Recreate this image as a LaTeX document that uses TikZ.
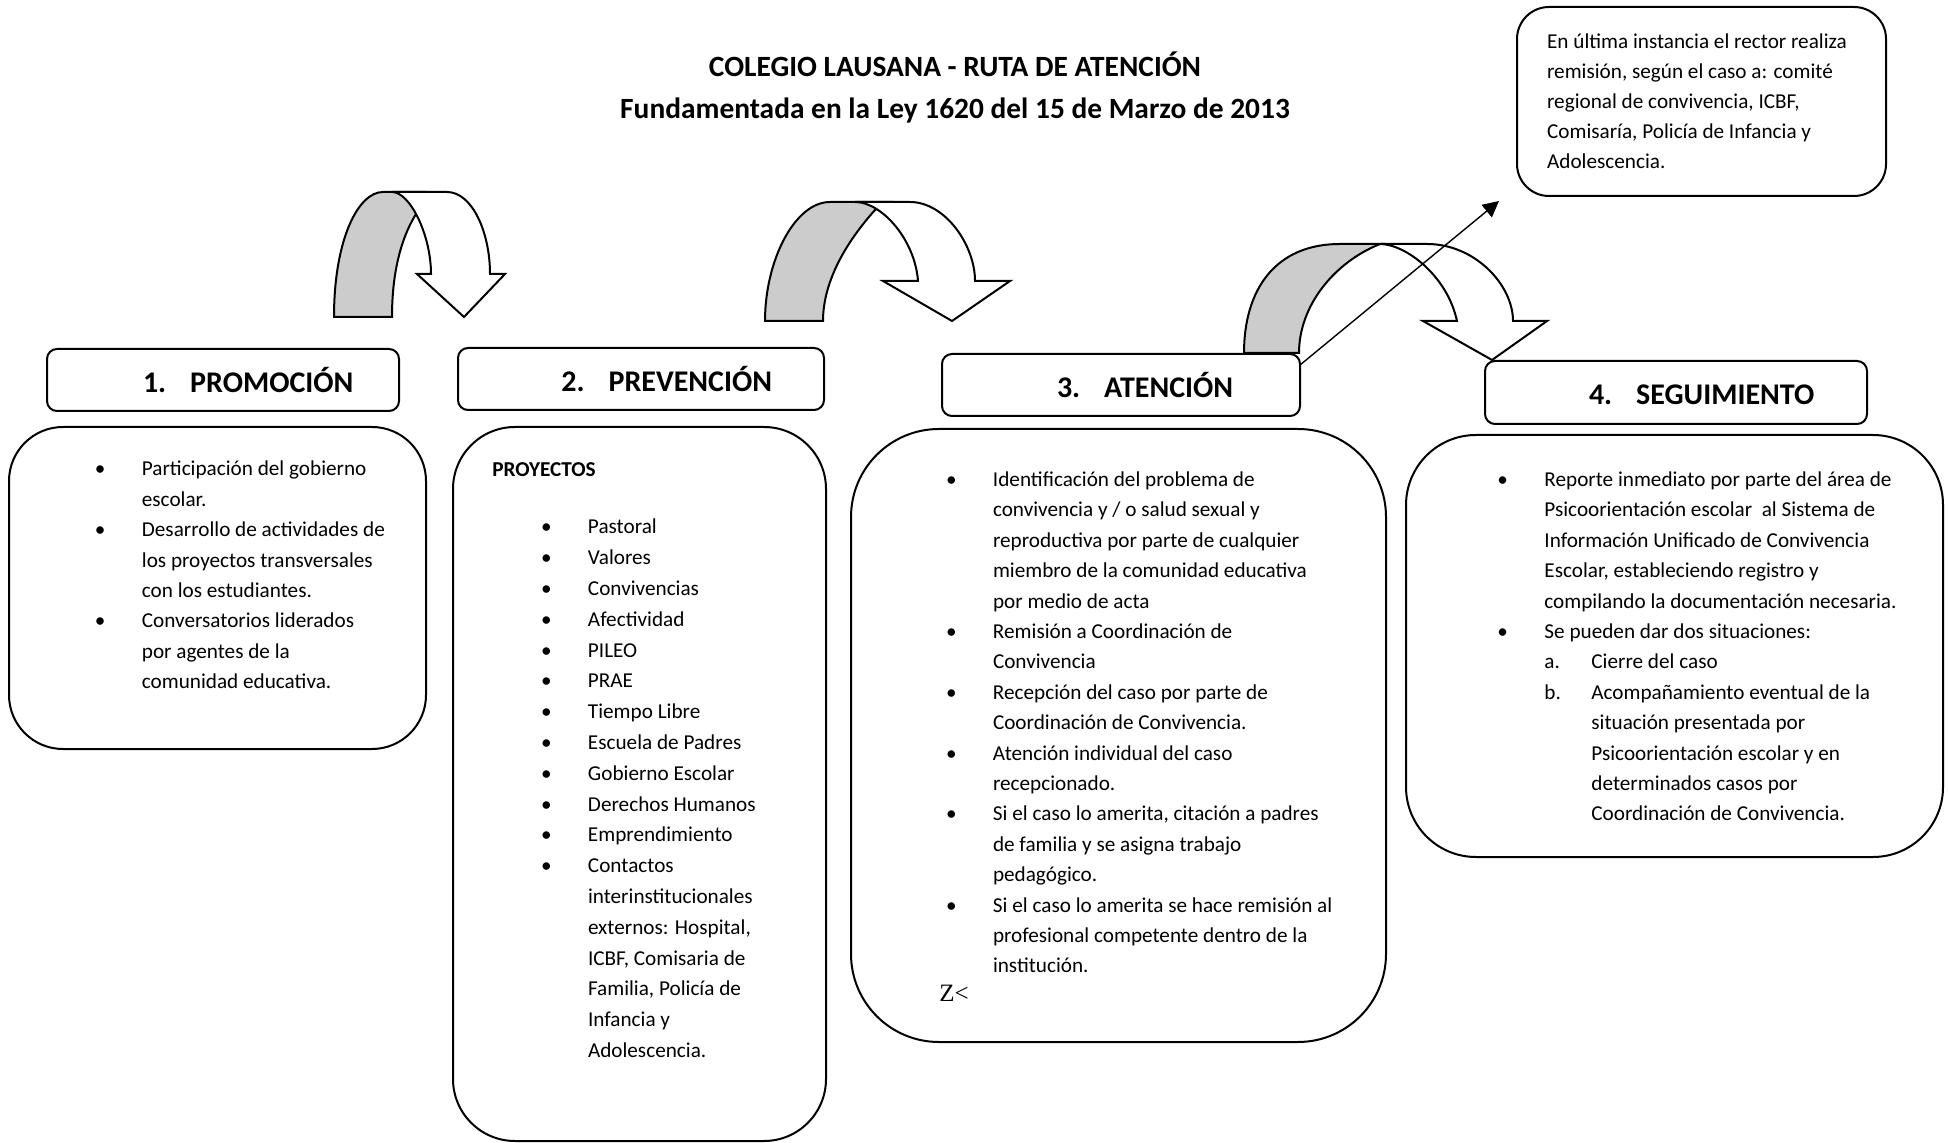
\documentclass[tikz,border=0pt]{standalone}
\usepackage{fontspec}
\setmainfont{Carlito}
\newfontfamily\markfont{Liberation Serif}
\usetikzlibrary{positioning}
\usetikzlibrary{arrows.meta}

\tikzstyle{heading} = [anchor=base, inner sep=0pt, font=\fontsize{14.7}{17}\selectfont\bfseries]
\tikzstyle{stage} = [rectangle, rounded corners=5pt, draw=black, line width=1pt, outer sep=0pt,
inner xsep=0pt, minimum height=31pt, text height=12.1pt, text depth=0pt, align=left,
font=\fontsize{15}{18}\selectfont\bfseries]
\tikzstyle{panel} = [rectangle, draw=black, line width=1pt, outer sep=0pt, inner sep=0pt]
\tikzstyle{bullets} = [anchor=base west, inner sep=0pt, font=\fontsize{10.6}{15.2}\selectfont]
\tikzstyle{bent} = [draw=black, line width=1pt]
\tikzstyle{linkarrow} = [line width=0.7pt, -{Triangle[length=8pt,width=8pt]}]

\begin{document}
\begin{tikzpicture}[x=0.5pt, y=-0.5pt]
    \useasboundingbox (0,0) rectangle (1948,1143);

    % title
    \node (ttlA) [heading] at (955,77) {COLEGIO LAUSANA - RUTA DE ATENCIÓN};
    \node (ttlB) [heading] at (955,119) {Fundamentada en la Ley 1620 del 15 de Marzo de 2013};

    % stages
    \node (hdrA) [stage, text width=176pt] at (223,380) {\hspace*{48pt}\makebox[23.6pt][l]{1.}PROMOCIÓN};
    \node (hdrB) [stage, text width=183pt] at (641,379) {\hspace*{51.7pt}\makebox[23.6pt][l]{2.}PREVENCIÓN};
    \node (hdrC) [stage, text width=179pt] at (1121,385) {\hspace*{57.5pt}\makebox[23.6pt][l]{3.}ATENCIÓN};
    \node (hdrD) [stage, text width=191pt, minimum height=31.5pt] at (1676,392.5) {\hspace*{52pt}\makebox[23.6pt][l]{4.}SEGUIMIENTO};

    \node (boxA) [panel, rounded corners=27pt, minimum width=208.5pt, minimum height=161pt, below=8pt of hdrA, xshift=-2.75pt] {};
    \node (boxB) [panel, rounded corners=31pt, minimum width=186.5pt, minimum height=357pt, below=8.5pt of hdrB, xshift=-0.75pt] {};
    \node (boxC) [panel, rounded corners=44pt, minimum width=267.5pt, minimum height=306.5pt, below=6.5pt of hdrC, xshift=-1.25pt] {};
    \node (boxD) [panel, rounded corners=35pt, minimum width=268.5pt, minimum height=211pt, below=5.5pt of hdrD, xshift=-0.75pt] {};
    \node (rector) [panel, rounded corners=16pt, minimum width=184.5pt, minimum height=94.5pt] at (1701.5,101.5) {};

    % texts
    \node (listA) [bullets] at (94.5,476) {\begin{tabular}[t]{@{}p{23.5pt}@{}l@{}}
        \textbullet & Participación del gobierno\\
         & escolar.\\
        \textbullet & Desarrollo de actividades de\\
         & los proyectos transversales\\
         & con los estudiantes.\\
        \textbullet & Conversatorios liderados\\
         & por agentes de la\\
         & comunidad educativa.
    \end{tabular}};
    \node (projB) [bullets, font=\fontsize{10.6}{15.2}\selectfont\bfseries] at (492,476.6) {PROYECTOS};
    \node (listB) [bullets, font=\fontsize{10.6}{15.4}\selectfont] at (540.6,534) {\begin{tabular}[t]{@{}p{23.5pt}@{}l@{}}
        \textbullet & Pastoral\\
        \textbullet & Valores\\
        \textbullet & Convivencias\\
        \textbullet & Afectividad\\
        \textbullet & PILEO\\
        \textbullet & PRAE\\
        \textbullet & Tiempo Libre\\
        \textbullet & Escuela de Padres\\
        \textbullet & Gobierno Escolar\\
        \textbullet & Derechos Humanos\\
        \textbullet & Emprendimiento\\
        \textbullet & Contactos\\
         & interinstitucionales\\
         & externos: Hospital,\\
         & ICBF, Comisaria de\\
         & Familia, Policía de\\
         & Infancia y\\
         & Adolescencia.
    \end{tabular}};
    \node (listC) [bullets] at (945.6,486.5) {\begin{tabular}[t]{@{}p{23.5pt}@{}l@{}}
        \textbullet & Identificación del problema de\\
         & convivencia y / o salud sexual y\\
         & reproductiva por parte de cualquier\\
         & miembro de la comunidad educativa\\
         & por medio de acta\\
        \textbullet & Remisión a Coordinación de\\
         & Convivencia\\
        \textbullet & Recepción del caso por parte de\\
         & Coordinación de Convivencia.\\
        \textbullet & Atención individual del caso\\
         & recepcionado.\\
        \textbullet & Si el caso lo amerita, citación a padres\\
         & de familia y se asigna trabajo\\
         & pedagógico.\\
        \textbullet & Si el caso lo amerita se hace remisión al\\
         & profesional competente dentro de la\\
         & institución.
    \end{tabular}};
    \node (markC) [anchor=base west, inner sep=0pt, font=\markfont\fontsize{12.5}{14}\selectfont] at (939,1001) {Z<};
    \node (listD) [bullets] at (1497,486.5) {\begin{tabular}[t]{@{}p{23.5pt}@{}l@{}}
        \textbullet & Reporte inmediato por parte del área de\\
         & Psicoorientación escolar\ \ al Sistema de\\
         & Información Unificado de Convivencia\\
         & Escolar, estableciendo registro y\\
         & compilando la documentación necesaria.\\
        \textbullet & Se pueden dar dos situaciones:\\
         & \makebox[23.5pt][l]{a.}Cierre del caso\\
         & \makebox[23.5pt][l]{b.}Acompañamiento eventual de la\\
         & \hspace*{23.5pt}situación presentada por\\
         & \hspace*{23.5pt}Psicoorientación escolar y en\\
         & \hspace*{23.5pt}determinados casos por\\
         & \hspace*{23.5pt}Coordinación de Convivencia.
    \end{tabular}};
    \node (rectortxt) [bullets, font=\fontsize{10.6}{15}\selectfont] at (1546.7,49) {\begin{tabular}[t]{@{}l@{}}
        En última instancia el rector realiza\\
        remisión, según el caso a: comité\\
        regional de convivencia, ICBF,\\
        Comisaría, Policía de Infancia y\\
        Adolescencia.
    \end{tabular}};

    % bent arrows
    \draw[bent, fill=gray!40] (334,317) .. controls (334,240) and (358,192) .. (383,192) -- (425,192) -- (416,214)
        .. controls (400,240) and (392,275) .. (392,317) -- cycle;
    \draw[bent, fill=white] (392,192) -- (447,192) .. controls (472,192) and (490,232) .. (490,274) -- (505,274)
        -- (464,317) -- (417,274) -- (431,274) .. controls (431,235) and (410,192) .. (392,192) -- cycle;

    \draw[bent, fill=gray!40] (765,321) .. controls (765,260) and (795,202) .. (830,202) -- (890,202) -- (875,210)
        .. controls (848,240) and (823,280) .. (823,321) -- cycle;
    \draw[bent, fill=white] (855,202) -- (910,202) .. controls (945,202) and (975,245) .. (975,281) -- (1010,281)
        -- (952,321) -- (883,281) -- (918,281) .. controls (915,240) and (882,202) .. (855,202) -- cycle;

    \draw[bent, fill=gray!40] (1244,353) .. controls (1244,290) and (1275,244) .. (1340,244) -- (1380,244)
        .. controls (1335,262) and (1299,305) .. (1299,353) -- cycle;
    \draw[bent, fill=white] (1380,244) -- (1427,244) .. controls (1475,244) and (1513,285) .. (1513,321) -- (1547,321)
        -- (1492,360) -- (1423,321) -- (1457,321) .. controls (1447,275) and (1405,244) .. (1380,244) -- cycle;

    % referral
    \coordinate (rectorEnd) at (1499,201);
    \draw[linkarrow] ([yshift=-5.5pt]hdrC.north east) -- (rectorEnd);

\end{tikzpicture}
\end{document}
